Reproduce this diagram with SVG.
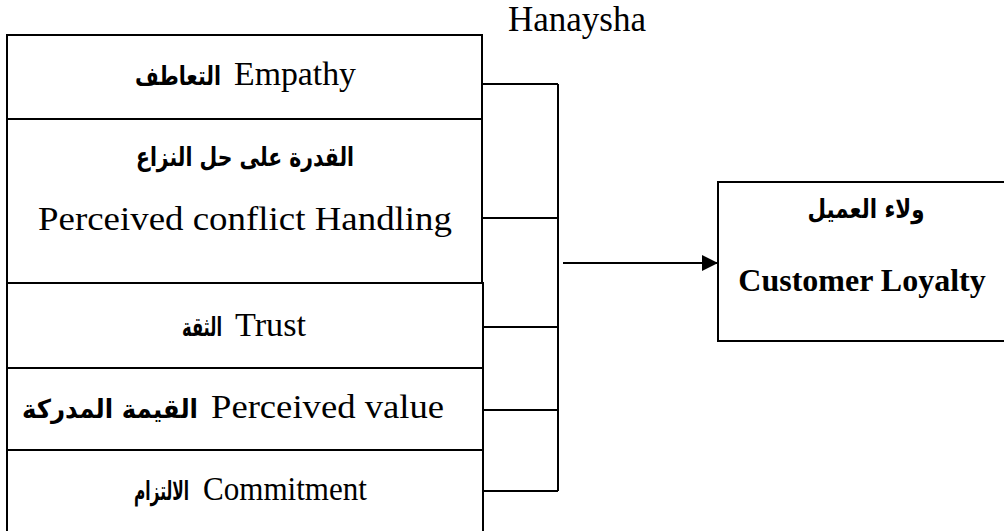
<svg xmlns="http://www.w3.org/2000/svg" width="1004" height="531" viewBox="0 0 1004 531">
  <style>
    .box { fill: #ffffff; stroke: #000000; stroke-width: 2; }
    .wire { fill: none; stroke: #000000; stroke-width: 2; }
    .en { font-family: "Liberation Serif", "Times New Roman", serif; font-size: 34px; fill: #000000; }
    .ar { font-family: "DejaVu Sans", "Noto Sans", sans-serif; font-size: 26px; font-weight: bold; fill: #000000; }
    .title { font-family: "Liberation Serif", "Times New Roman", serif; font-size: 35px; fill: #000000; }
    .out { font-family: "Liberation Serif", "Times New Roman", serif; font-size: 32px; font-weight: bold; fill: #000000; }
  </style>
  <defs>
    <marker id="arrowhead" viewBox="0 0 16 16" refX="16" refY="8" markerWidth="16" markerHeight="16" markerUnits="userSpaceOnUse" orient="auto">
      <path d="M0,0 L16,8 L0,16 Z" fill="#000000"/>
    </marker>
  </defs>

  <rect width="1004" height="531" fill="#ffffff"/>

  <text class="title" x="577" y="31" text-anchor="middle">Hanaysha</text>

  <!-- mixed-language rows: Arabic term ends where the English term begins -->
  <g id="empathy">
    <rect class="box" x="7" y="35" width="475" height="84"/>
    <text class="ar" x="221" y="85" text-anchor="end" textLength="86" lengthAdjust="spacingAndGlyphs">التعاطف</text>
    <text class="en" x="234" y="85" textLength="122" lengthAdjust="spacingAndGlyphs">Empathy</text>
  </g>

  <g id="conflict-handling">
    <rect class="box" x="7" y="119" width="475" height="164"/>
    <text class="ar" x="245" y="166" text-anchor="middle" textLength="218" lengthAdjust="spacingAndGlyphs">القدرة على حل النزاع</text>
    <text class="en" x="245" y="230" text-anchor="middle" textLength="414" lengthAdjust="spacingAndGlyphs">Perceived conflict Handling</text>
  </g>

  <g id="trust">
    <rect class="box" x="7" y="283" width="476" height="85"/>
    <text class="ar" x="222" y="336" text-anchor="end" textLength="40" lengthAdjust="spacingAndGlyphs">الثقة</text>
    <text class="en" x="235" y="336" textLength="71" lengthAdjust="spacingAndGlyphs">Trust</text>
  </g>

  <g id="perceived-value">
    <rect class="box" x="7" y="368" width="476" height="82"/>
    <text class="ar" x="198" y="418" text-anchor="end" textLength="176" lengthAdjust="spacingAndGlyphs">القيمة المدركة</text>
    <text class="en" x="211" y="418" textLength="233" lengthAdjust="spacingAndGlyphs">Perceived value</text>
  </g>

  <g id="commitment">
    <rect class="box" x="7" y="450" width="476" height="83"/>
    <text class="ar" x="189" y="500" text-anchor="end" textLength="55" lengthAdjust="spacingAndGlyphs">الالتزام</text>
    <text class="en" x="203" y="500" textLength="164" lengthAdjust="spacingAndGlyphs">Commitment</text>
  </g>

  <g id="customer-loyalty">
    <rect class="box" x="718" y="182" width="290" height="159"/>
    <text class="ar" x="866" y="218" text-anchor="middle" textLength="117" lengthAdjust="spacingAndGlyphs">ولاء العميل</text>
    <text class="out" x="862" y="291" text-anchor="middle">Customer Loyalty</text>
  </g>

  <g id="connectors">
    <path class="wire" d="M482,84 H558 M483,218 H558 M483,327 H558 M483,410 H558 M483,491 H558 M558,84 V491"/>
    <path class="wire" d="M563,263 H718" stroke-width="2.5" marker-end="url(#arrowhead)"/>
  </g>
</svg>
